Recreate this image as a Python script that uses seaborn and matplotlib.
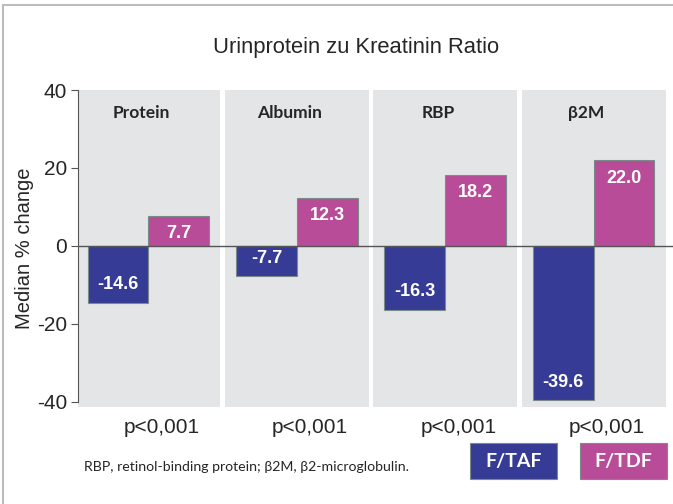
import matplotlib.pyplot as plt
import matplotlib.patches as patches
import numpy as np
import pandas as pd
import seaborn as sns

markers = ['Protein', 'Albumin', 'RBP', 'β2M']
groups = ['F/TAF', 'F/TDF']
taf = [-14.6, -7.7, -16.3, -39.6]
tdf = [7.7, 12.3, 18.2, 22.0]
p_values = ['p<0,001', 'p<0,001', 'p<0,001', 'p<0,001']
colors = ['#363c95', '#b84c99']

df = pd.DataFrame({
    'marker': markers * 2,
    'group': [groups[0]] * 4 + [groups[1]] * 4,
    'change': taf + tdf,
})

sns.set_style('ticks')
plt.rcParams['font.family'] = ['Liberation Sans', 'DejaVu Sans']
plt.rcParams['axes.unicode_minus'] = False

fig = plt.figure(figsize=(6.73, 5.04), dpi=100)
ax = fig.add_axes([78 / 673, 1 - 407 / 504, 1 - 78 / 673, (407 - 90) / 504])

# grey panels behind each group
for i in range(len(markers)):
    ax.axvspan(i - 0.485, i + 0.485, color='#e4e5e7', lw=0, zorder=0)

sns.barplot(data=df, x='marker', y='change', hue='group', hue_order=groups,
            palette=colors, width=0.82, saturation=1, edgecolor='#7d8a8a',
            linewidth=0.8, legend=False, ax=ax, zorder=2)

ax.axhline(0, color='#555555', lw=1, zorder=3)

# value labels inside the bars
for cont, vals in zip(ax.containers, [taf, tdf]):
    for bar, val in zip(cont, vals):
        ax.text(bar.get_x() + bar.get_width() / 2, val - np.sign(val) * 4.6,
                f'{val:.1f}', ha='center', va='center', color='white',
                fontsize=13, fontweight='bold', zorder=4)

for i, m in enumerate(markers):
    ax.text(i - 0.05, 34, m, ha='center', va='center', fontsize=12.5,
            fontweight='bold', family=['Lato', 'DejaVu Sans'])
    ax.text(i + 0.09, -46.5, p_values[i], ha='center', va='center',
            fontsize=15, clip_on=False)

ax.set_xlim(-0.475, 3.535)
ax.set_ylim(-41.3, 40)
ax.set_yticks([-40, -20, 0, 20, 40])
ax.tick_params(axis='y', labelsize=15, length=5, width=0.8, color='#555555', pad=3)
ax.tick_params(axis='x', bottom=False, labelbottom=False)
ax.set_xlabel('')
ax.set_ylabel('Median % change', fontsize=14.5, labelpad=2)
for s in ['top', 'right', 'bottom']:
    ax.spines[s].set_visible(False)
ax.spines['left'].set_bounds(-40, 40)
ax.spines['left'].set_color('#555555')
ax.spines['left'].set_linewidth(0.8)
ax.set_facecolor('white')

fig.text(356 / 673, 1 - 48 / 504, 'Urinprotein zu Kreatinin Ratio',
         ha='center', va='center', fontsize=15.8)

fig.text(84 / 673, 1 - 467 / 504,
         'RBP, retinol-binding protein; β2M, β2-microglobulin.',
         ha='left', va='center', fontsize=10.2, family=['Lato', 'DejaVu Sans'])

# legend boxes
for x0, lab, c in zip([470, 580], groups, colors):
    fig.patches.append(patches.Rectangle((x0 / 673, 1 - 479 / 504), 87 / 673, 36 / 504,
                                         transform=fig.transFigure, facecolor=c,
                                         edgecolor='#7d8a8a', lw=0.8))
    fig.text((x0 + 43.5) / 673, 1 - 461 / 504, lab, ha='center', va='center',
             color='white', fontsize=14, fontweight='bold',
             family=['Lato', 'DejaVu Sans'])

# outer frame
fig.patches.append(patches.Rectangle((3 / 673, -0.1), 2, 1 - 5 / 504 + 0.1,
                                     transform=fig.transFigure, fill=False,
                                     edgecolor='#bcbcbc', lw=1.5))

fig.savefig('out.png', dpi=100)
